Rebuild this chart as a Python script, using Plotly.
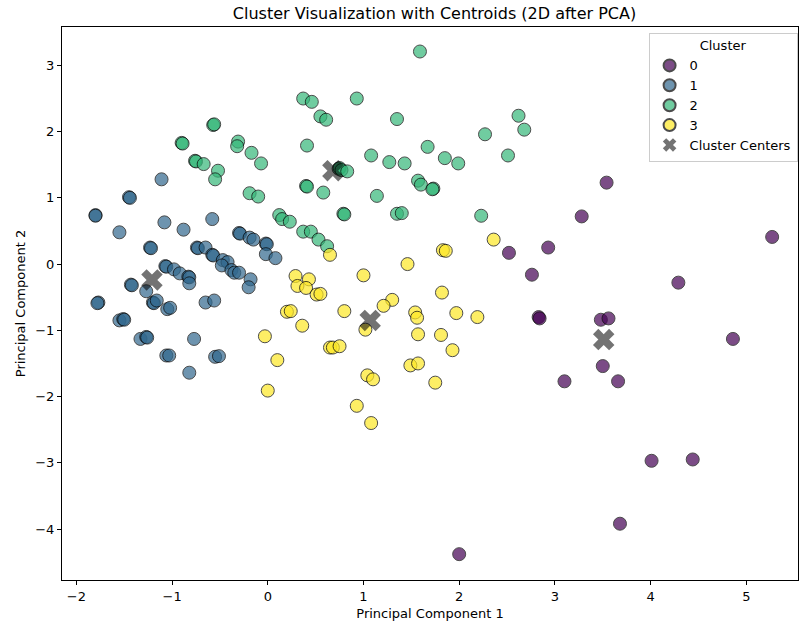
import plotly.graph_objects as go

# Cluster 0
x0 = [3.54, 3.28, 2.52, 2.93, 2.76, 2.83, 2.84, 3.48, 3.56, 5.27, 4.29, 4.86, 3.50, 3.10, 3.66, 4.01, 4.44, 3.68, 2.00]
y0 = [1.23, 0.72, 0.17, 0.25, -0.16, -0.80, -0.82, -0.84, -0.82, 0.41, -0.28, -1.13, -1.54, -1.77, -1.77, -2.97, -2.95, -3.92, -4.38]

# Cluster 1
x1 = [-1.11, -1.45, -1.44, -1.80, -1.80, -1.55, -1.08, -0.88, -0.58, -1.23, -1.22, -0.74, -0.73, -0.65,
      -0.58, -0.57, -0.47, -0.42, -0.48, -0.38, -0.35, -0.30, -0.18, -0.20, -0.30, -0.29, -0.19, -0.15,
      -0.02, -0.01, -0.02, 0.08, -1.07, -1.06, -0.98, -0.92, -0.83, -0.82, -0.82, -1.43, -1.42, -1.27,
      -1.20, -1.19, -1.16, -1.05, -1.02, -1.77, -1.78, -1.55, -1.51, -1.50, -1.33, -1.27, -1.26,
      -0.65, -0.56, -0.77, -1.06, -1.03, -0.55, -0.51, -0.82]
y1 = [1.28, 1.01, 1.00, 0.74, 0.73, 0.48, 0.63, 0.52, 0.68, 0.25, 0.24, 0.25, 0.24, 0.25,
      0.14, 0.13, 0.06, 0.03, -0.02, -0.09, -0.13, -0.13, -0.23, -0.35, 0.47, 0.46, 0.40, 0.37,
      0.31, 0.30, 0.15, 0.09, -0.03, -0.04, -0.08, -0.14, -0.19, -0.20, -0.29, -0.31, -0.32, -0.41,
      -0.58, -0.59, -0.55, -0.68, -0.66, -0.58, -0.59, -0.85, -0.83, -0.84, -1.13, -1.10, -1.11,
      -0.58, -0.55, -1.13, -1.38, -1.38, -1.40, -1.39, -1.64]

# Cluster 2
x2 = [1.59, 0.37, 0.46, 0.93, 0.55, 0.61, 1.35, 2.62, 2.68, 2.27, -0.31, -0.32, 0.41, 1.67, -0.17, -0.07,
      1.08, 1.27, 1.43, 1.85, 1.99, 2.51, 0.74, 0.75, 0.77, 0.83, 0.40, 0.41, 0.58, 1.14, 1.57, 1.60,
      1.73, 1.72, -0.19, -0.10, 0.79, 0.80, 1.35, 1.40, 2.23, 0.12, 0.15, 0.23, 0.37, 0.45, 0.53, 0.62,
      -0.90, -0.89, -0.57, -0.56, -0.76, -0.75, -0.67, -0.52, -0.55]
y2 = [3.21, 2.50, 2.45, 2.50, 2.23, 2.18, 2.19, 2.24, 2.03, 1.96, 1.85, 1.78, 1.79, 1.77, 1.68, 1.52,
      1.64, 1.54, 1.52, 1.60, 1.52, 1.64, 1.44, 1.45, 1.42, 1.40, 1.18, 1.17, 1.08, 1.03, 1.26, 1.20,
      1.14, 1.13, 1.07, 1.02, 0.76, 0.75, 0.76, 0.77, 0.73, 0.74, 0.68, 0.64, 0.49, 0.49, 0.37, 0.27,
      1.83, 1.82, 2.10, 2.11, 1.56, 1.55, 1.51, 1.41, 1.28]

# Cluster 3
x3 = [2.36, 1.83, 1.86, 1.46, 1.00, 0.29, 0.43, 0.31, 0.40, 0.51, 0.55, 1.82, 1.30, 1.21, 0.20, 0.24,
      0.80, 1.54, 1.56, 1.97, 2.19, 0.36, 1.02, -0.03, 1.57, 1.81, 0.65, 0.68, 0.75, 1.93, 0.10, 1.49,
      1.57, 1.04, 1.10, 1.75, 0.00, 0.93, 1.08, 0.65]
y3 = [0.37, 0.21, 0.20, 0.00, -0.17, -0.18, -0.23, -0.33, -0.36, -0.46, -0.45, -0.43, -0.54, -0.63, -0.72, -0.71,
      -0.71, -0.73, -0.81, -0.74, -0.80, -0.93, -0.99, -1.09, -1.06, -1.07, -1.26, -1.26, -1.24, -1.30, -1.45, -1.53,
      -1.50, -1.68, -1.74, -1.79, -1.91, -2.14, -2.40, 0.14]

# Cluster centers
cx = [3.51, -1.21, 0.68, 1.07]
cy = [-1.14, -0.24, 1.41, -0.85]

cluster_names = ["0", "1", "2", "3"]
colors = ["#440154", "#31688e", "#35b779", "#fde725"]
xs = [x0, x1, x2, x3]
ys = [y0, y1, y2, y3]

fig = go.Figure()
for name, col, xv, yv in zip(cluster_names, colors, xs, ys):
    fig.add_trace(go.Scatter(
        x=xv, y=yv, mode="markers", name=name,
        marker=dict(size=13, color=col, opacity=0.7,
                    line=dict(color="black", width=1)),
    ))

fig.add_trace(go.Scatter(
    x=cx, y=cy, mode="markers", name="Cluster Centers",
    marker=dict(symbol="x", size=19, color="black", opacity=0.55,
                line=dict(width=0)),
))

font = "DejaVu Sans, Liberation Sans, sans-serif"
fig.update_layout(
    width=799, height=622,
    margin=dict(l=62, r=1, t=27, b=42),
    paper_bgcolor="white", plot_bgcolor="white",
    font=dict(family=font, size=13, color="black"),
    title=dict(text="Cluster Visualization with Centroids (2D after PCA)",
               x=434.5 / 799, xanchor="center", xref="container",
               y=1 - 13 / 622, yanchor="middle", yref="container",
               font=dict(size=16, family=font, color="black")),
    legend=dict(
        title=dict(text="Cluster", side="top center", font=dict(size=13)),
        x=0.797, xanchor="left", y=0.99, yanchor="top",
        bgcolor="rgba(255,255,255,0.8)", bordercolor="#cccccc", borderwidth=1,
        font=dict(size=13), itemsizing="constant",
        tracegroupgap=0,
    ),
    showlegend=True,
)
fig.update_xaxes(
    range=[-2.15, 5.54], tickmode="array", tickvals=[-2, -1, 0, 1, 2, 3, 4, 5],
    showgrid=False, zeroline=False, showline=True, linecolor="black", linewidth=1,
    mirror=True, ticks="outside", ticklen=4, tickcolor="black",
    tickfont=dict(size=13),
    title=dict(text="Principal Component 1", font=dict(size=13), standoff=6),
)
fig.update_yaxes(
    range=[-4.77, 3.58], tickmode="array", tickvals=[-4, -3, -2, -1, 0, 1, 2, 3],
    showgrid=False, zeroline=False, showline=True, linecolor="black", linewidth=1,
    mirror=True, ticks="outside", ticklen=4, tickcolor="black",
    tickfont=dict(size=13),
    title=dict(text="Principal Component 2", font=dict(size=13), standoff=6),
)

fig.write_html(
    "out.html",
    config={"displayModeBar": False},
    post_script="document.body.style.margin='0';document.body.style.padding='0';",
)
